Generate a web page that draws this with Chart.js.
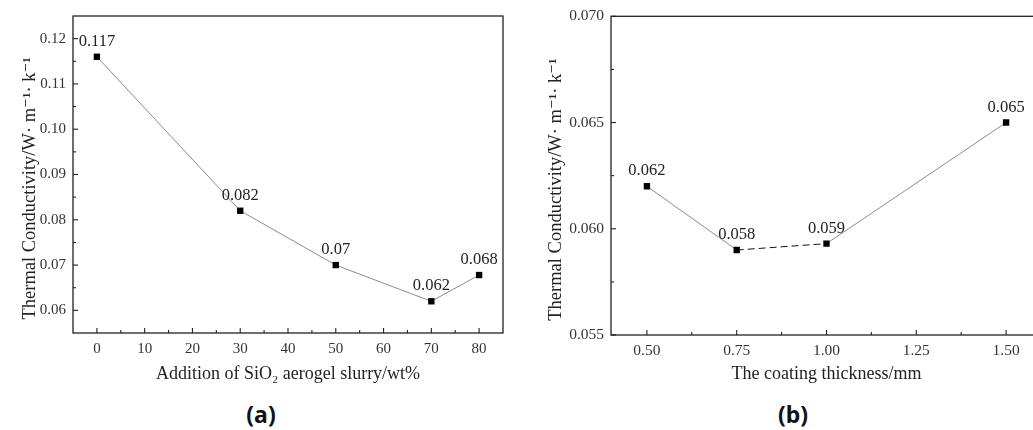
<!DOCTYPE html>
<html>
<head>
<meta charset="utf-8">
<script src="https://cdn.jsdelivr.net/npm/chart.js@4"></script>
<style>
  html, body { margin: 0; padding: 0; background: #fff; width: 1033px; height: 430px; overflow: hidden; position: relative; }
  canvas { position: absolute; top: 0; }
  #chartA { left: 0; }
  #chartB { left: 513px; }
  .cap { position: absolute; top: 398px; width: 60px; margin-left: -30px; text-align: center;
         font: bold 23px 'Noto Sans', sans-serif; color: #111; }
</style>
</head>
<body>
<canvas id="chartA" width="513" height="395"></canvas>
<canvas id="chartB" width="540" height="395"></canvas>
<div class="cap" style="left:261px">(a)</div>
<div class="cap" style="left:793px">(b)</div>
<script>
// (a) conductivity vs. amount of SiO2 aerogel slurry
const slurryWt = [0, 30, 50, 70, 80];
const slurryK = [0.116, 0.082, 0.070, 0.062, 0.0678];
const slurryLabels = ['0.117', '0.082', '0.07', '0.062', '0.068'];
const slurryXTicks = [0, 10, 20, 30, 40, 50, 60, 70, 80];
const slurryXMinor = [5, 15, 25, 35, 45, 55, 65, 75];
const slurryYTicks = [0.06, 0.07, 0.08, 0.09, 0.10, 0.11, 0.12];
const slurryYMinor = [0.065, 0.075, 0.085, 0.095, 0.105, 0.115];

// (b) conductivity vs. coating thickness
const thickness = [0.5, 0.75, 1.0, 1.5];
const thicknessK = [0.062, 0.0590, 0.0593, 0.065];
const thicknessLabels = ['0.062', '0.058', '0.059', '0.065'];
const thickXTicks = [0.5, 0.75, 1.0, 1.25, 1.5];
const thickXMinor = [0.625, 0.875, 1.125, 1.375];
const thickYTicks = [0.055, 0.060, 0.065, 0.070];
const thickYMinor = [0.0575, 0.0625, 0.0675];

const SERIF = "'Liberation Serif', 'DejaVu Serif', serif";
// trailing spaces push the rotated title a bit lower, like the original
const yTitle = 'Thermal Conductivity/W\u00b7 m\u207b\u00b9\u00b7 k\u207b\u00b9' + ' '.repeat(6);

// box around plot + inward tick marks + value labels
const framePlugin = {
    id: 'frame',
    afterDraw(chart, args, opts) {
        const { ctx, chartArea: a, scales: { x, y } } = chart;
        ctx.save();
        ctx.strokeStyle = '#222';
        ctx.lineWidth = 1.3;
        ctx.strokeRect(a.left, a.top, a.right - a.left, a.bottom - a.top);

        const tick = (vals, len, horiz) => {
            vals.forEach(v => {
                ctx.beginPath();
                if (horiz) {
                    const px = x.getPixelForValue(v);
                    ctx.moveTo(px, a.bottom);
                    ctx.lineTo(px, a.bottom - len);
                } else {
                    const py = y.getPixelForValue(v);
                    ctx.moveTo(a.left, py);
                    ctx.lineTo(a.left + len, py);
                }
                ctx.stroke();
            });
        };
        ctx.lineWidth = 1.1;
        tick(opts.xMajor, 5, true);
        tick(opts.xMinor, 3, true);
        tick(opts.yMajor, 5, false);
        tick(opts.yMinor, 3, false);

        // point value labels
        const meta = chart.getDatasetMeta(0);
        ctx.fillStyle = '#222';
        ctx.font = opts.labelFont;
        ctx.textAlign = 'center';
        ctx.textBaseline = 'alphabetic';
        meta.data.forEach((pt, i) => {
            ctx.fillText(opts.labels[i], pt.x, pt.y - 11);
        });
        ctx.restore();
    }
};

function makeChart(id, xs, ys, cfg) {
    const ctx = document.getElementById(id).getContext('2d');
    return new Chart(ctx, {
        type: 'line',
        data: {
            datasets: [{
                data: xs.map((v, i) => ({ x: v, y: ys[i] })),
                borderColor: '#8c8c8c',
                borderWidth: 1,
                tension: 0,
                pointStyle: 'rect',
                pointRadius: 4.5,
                pointBackgroundColor: '#000',
                pointBorderColor: '#000',
                pointBorderWidth: 0,
                segment: cfg.segment || {}
            }]
        },
        options: {
            responsive: false,
            animation: false,
            layout: { padding: cfg.padding },
            plugins: {
                legend: { display: false },
                tooltip: { enabled: false },
                frame: {
                    xMajor: cfg.xTicks, xMinor: cfg.xMinor,
                    yMajor: cfg.yTicks, yMinor: cfg.yMinor,
                    labels: cfg.labels, labelFont: cfg.labelFont
                }
            },
            scales: {
                x: {
                    type: 'linear',
                    min: cfg.xMin, max: cfg.xMax,
                    afterBuildTicks: s => { s.ticks = cfg.xTicks.map(v => ({ value: v })); },
                    afterFit: s => { s.height = cfg.xHeight; },
                    grid: { display: false, drawTicks: false },
                    border: { display: false },
                    ticks: {
                        padding: 7,
                        color: '#333',
                        font: { family: SERIF, size: cfg.tickSize },
                        callback: v => cfg.xFmt(v)
                    },
                    title: {
                        display: true,
                        text: cfg.xTitle,
                        color: '#222',
                        font: { family: SERIF, size: 18, lineHeight: 1.2 },
                        padding: { top: 0, bottom: 10 }
                    }
                },
                y: {
                    type: 'linear',
                    min: cfg.yMin, max: cfg.yMax,
                    afterBuildTicks: s => { s.ticks = cfg.yTicks.map(v => ({ value: v })); },
                    afterFit: s => { s.width = cfg.yWidth; },
                    grid: { display: false, drawTicks: false },
                    border: { display: false },
                    ticks: {
                        padding: 7,
                        color: '#333',
                        font: { family: SERIF, size: cfg.tickSize },
                        callback: v => cfg.yFmt(v)
                    },
                    title: {
                        display: true,
                        text: yTitle,
                        color: '#222',
                        font: { family: SERIF, size: 18.5, lineHeight: 1.2 },
                        padding: { top: cfg.yTitlePad, bottom: 0 }
                    }
                }
            }
        },
        plugins: [framePlugin]
    });
}

makeChart('chartA', slurryWt, slurryK, {
    padding: { top: 13, right: 10, left: 0, bottom: 0 },
    xMin: -5, xMax: 85, yMin: 0.055, yMax: 0.125,
    xTicks: slurryXTicks, xMinor: slurryXMinor,
    yTicks: slurryYTicks, yMinor: slurryYMinor,
    xHeight: 62, yWidth: 73, yTitlePad: 19,
    tickSize: 15,
    xFmt: v => String(v),
    yFmt: v => v.toFixed(2),
    xTitle: 'Addition of SiO\u2082 aerogel slurry/wt%',
    labels: slurryLabels,
    labelFont: '16.5px ' + SERIF
});

makeChart('chartB', thickness, thicknessK, {
    padding: { top: 16, right: 11, left: 0, bottom: 0 },
    xMin: 0.4, xMax: 1.6, yMin: 0.055, yMax: 0.070,
    xTicks: thickXTicks, xMinor: thickXMinor,
    yTicks: thickYTicks, yMinor: thickYMinor,
    xHeight: 60, yWidth: 98, yTitlePad: 32,
    tickSize: 15.5,
    xFmt: v => v.toFixed(2),
    yFmt: v => v.toFixed(3),
    xTitle: 'The coating thickness/mm',
    labels: thicknessLabels,
    labelFont: '16.5px ' + SERIF,
    segment: {
        borderDash: c => c.p0DataIndex === 1 ? [7, 4] : undefined,
        borderColor: c => c.p0DataIndex === 1 ? '#111' : undefined
    }
});
</script>
</body>
</html>
